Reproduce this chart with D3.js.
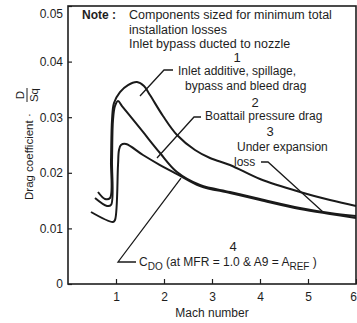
<!DOCTYPE html>
<html>
<head>
<meta charset="utf-8">
<script src="https://cdn.jsdelivr.net/npm/d3@7"></script>
<style>
  body { margin: 0; background: #fff; }
  text { font-family: "Liberation Sans", Arial, Helvetica, sans-serif; fill: #1e1e1e; }
</style>
</head>
<body>
<div id="chart"></div>
<script>
// Mach number / drag coefficient pairs
var inletMach = [0.625, 0.771, 0.875, 0.896, 0.917, 0.958, 1.083, 1.25, 1.4375, 1.583, 1.708, 1.979, 2.271, 2.646, 2.958, 3.375, 4.0, 4.833, 5.458, 6.0];
var inletDrag = [0.01655, 0.01529, 0.01547, 0.0223, 0.0295, 0.03255, 0.03453, 0.03579, 0.03633, 0.03561, 0.03399, 0.03022, 0.0268, 0.0241, 0.02266, 0.0214, 0.01888, 0.01655, 0.01511, 0.01403];

var boattailMach = [0.5625, 0.8125, 0.896, 0.917, 0.9375, 0.979, 1.042, 1.125, 1.292, 1.5625, 1.917, 2.271, 2.75, 3.375, 4.0, 4.833, 5.458, 6.0];
var boattailDrag = [0.01547, 0.01403, 0.01421, 0.0223, 0.0295, 0.03201, 0.03291, 0.03201, 0.03022, 0.02734, 0.02356, 0.02014, 0.01781, 0.01655, 0.01529, 0.01367, 0.01277, 0.01223];

var underMach = [0.479, 0.9375, 0.979, 1.042, 1.0625, 1.104, 1.208, 1.5625, 1.917, 2.271, 2.75, 3.375, 4.0, 4.833, 5.458, 6.0];
var underDrag = [0.01295, 0.01115, 0.01151, 0.0214, 0.0241, 0.025, 0.02518, 0.0232, 0.0214, 0.01978, 0.01763, 0.01637, 0.01511, 0.01349, 0.01259, 0.01187];

var xTicks = [1, 2, 3, 4, 5, 6];
var yTicks = [0, 0.01, 0.02, 0.03, 0.04, 0.05];

// leader lines from the labels to the curves (data units)
var leader1 = [[2.1875, 0.03849], [2.0, 0.03849], [1.5, 0.03381]];
var leader2 = [[2.771, 0.03004], [2.625, 0.03004], [1.854, 0.02266]];
var leader3 = [[4.021, 0.02194], [4.167, 0.02194], [5.3125, 0.01295]];
var leader4 = [[1.417, 0.00396], [1.042, 0.00396], [2.354, 0.01906]];

var width = 357, height = 323;

var svg = d3.select("#chart")
  .append("svg")
  .attr("width", width)
  .attr("height", height);

var x = d3.scaleLinear().domain([0, 6]).range([68, 356]);
var y = d3.scaleLinear().domain([0, 0.05]).range([284, 6]);

// frame
svg.append("rect")
  .attr("x", x(0)).attr("y", y(0.05))
  .attr("width", x(6) - x(0)).attr("height", y(0) - y(0.05))
  .attr("fill", "none").attr("stroke", "#1e1e1e").attr("stroke-width", 1.6);

// axes with inward ticks
var yAxis = svg.append("g")
  .attr("transform", `translate(${x(0)},0)`)
  .call(d3.axisLeft(y).tickValues(yTicks).tickSizeInner(-4).tickSizeOuter(0).tickPadding(5)
    .tickFormat(d => d === 0 ? "0" : d3.format(".2f")(d)));
yAxis.select(".domain").remove();
yAxis.selectAll("line").attr("stroke", "#1e1e1e").attr("stroke-width", 1.2);
yAxis.selectAll("text").attr("font-size", 12).attr("fill", "#1e1e1e")
  .attr("dy", d => d === 0.05 ? "0.95em" : "0.32em");

var xAxis = svg.append("g")
  .attr("transform", `translate(0,${y(0)})`)
  .call(d3.axisBottom(x).tickValues(xTicks).tickSizeInner(-5).tickSizeOuter(0).tickPadding(8)
    .tickFormat(d3.format("d")));
xAxis.select(".domain").remove();
xAxis.selectAll("line").attr("stroke", "#1e1e1e").attr("stroke-width", 1.2);
xAxis.selectAll("text").attr("font-size", 12).attr("fill", "#1e1e1e")
  .attr("dx", d => d === 6 ? -3 : 0);

// curves
var line = d3.line()
  .x(d => x(d[0]))
  .y(d => y(d[1]))
  .curve(d3.curveCatmullRom.alpha(0.5));

var curves = [
  d3.zip(inletMach, inletDrag),
  d3.zip(boattailMach, boattailDrag),
  d3.zip(underMach, underDrag)
];

svg.append("g")
  .selectAll("path")
  .data(curves)
  .join("path")
    .attr("d", line)
    .attr("fill", "none")
    .attr("stroke", "#1a1a1a")
    .attr("stroke-width", 2)
    .attr("stroke-linejoin", "round");

var straight = d3.line().x(d => x(d[0])).y(d => y(d[1]));
svg.append("g")
  .selectAll("path")
  .data([leader1, leader2, leader3, leader4])
  .join("path")
    .attr("d", straight)
    .attr("fill", "none")
    .attr("stroke", "#1a1a1a")
    .attr("stroke-width", 1.3);

// note block
svg.append("text").attr("x", 82).attr("y", 19).attr("font-size", 12).attr("font-weight", "bold").text("Note :");
var note = ["Components sized for minimum total", "installation losses", "Inlet bypass ducted to nozzle"];
svg.append("g").selectAll("text")
  .data(note)
  .join("text")
    .attr("x", 129)
    .attr("y", (d, i) => 19 + i * 14.5)
    .attr("font-size", 12.5)
    .text(d => d);

// curve labels
var labels = [
  {t: "1", x: 237, y: 62, s: 13, a: "middle"},
  {t: "Inlet additive, spillage,", x: 178, y: 75, s: 12, a: "start"},
  {t: "bypass and bleed drag", x: 185, y: 90, s: 12, a: "start"},
  {t: "2", x: 255, y: 107, s: 13, a: "middle"},
  {t: "Boattail pressure drag", x: 205, y: 120, s: 12, a: "start"},
  {t: "3", x: 270, y: 136, s: 13, a: "middle"},
  {t: "Under expansion", x: 237, y: 151, s: 12, a: "start"},
  {t: "loss", x: 234, y: 166, s: 12, a: "start"},
  {t: "4", x: 233, y: 251, s: 13, a: "middle"}
];
svg.append("g").selectAll("text")
  .data(labels)
  .join("text")
    .attr("x", d => d.x).attr("y", d => d.y)
    .attr("font-size", d => d.s)
    .attr("text-anchor", d => d.a)
    .text(d => d.t);

var cdo = svg.append("text").attr("x", 139).attr("y", 266).attr("font-size", 12);
cdo.append("tspan").text("C");
cdo.append("tspan").attr("dy", 4).attr("font-size", 10).text("DO");
cdo.append("tspan").attr("dy", -4).text(" (at MFR = 1.0 & A9 = A");
cdo.append("tspan").attr("dy", 4).attr("font-size", 10).text("REF");
cdo.append("tspan").attr("dy", -4).text(" )");

// axis titles
svg.append("text")
  .attr("x", 212).attr("y", 317)
  .attr("text-anchor", "middle").attr("font-size", 12)
  .text("Mach number");

var yt = svg.append("g").attr("transform", "translate(33,200) rotate(-90)");
yt.append("text").attr("x", 0).attr("y", 0).attr("font-size", 11.5).text("Drag coefficient ·");
yt.append("text").attr("x", 105).attr("y", -9).attr("font-size", 11.5).attr("text-anchor", "middle").text("D");
yt.append("line").attr("x1", 98).attr("x2", 112).attr("y1", -6).attr("y2", -6)
  .attr("stroke", "#1e1e1e").attr("stroke-width", 1);
yt.append("text").attr("x", 105).attr("y", 5).attr("font-size", 11.5).attr("text-anchor", "middle").text("Sq");
</script>
</body>
</html>
